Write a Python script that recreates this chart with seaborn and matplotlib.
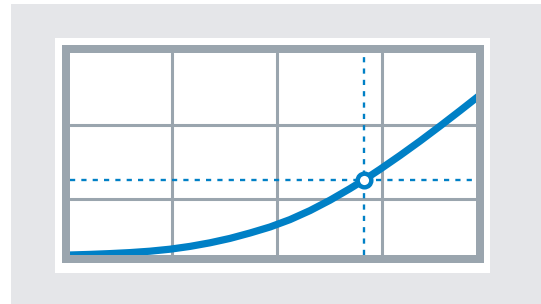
import matplotlib.pyplot as plt
import matplotlib.patches as mpatches
import seaborn as sns

# curve (x across the plot box, y up from the bottom, both in box pixels)
curve_x = [0, 20, 40, 60, 80, 100, 120, 140, 160, 180, 200, 220, 240, 260, 280, 294, 310, 330, 350, 370, 390, 410]
curve_y = [0, 0.6, 1.4, 2.4, 3.8, 5.8, 8.6, 12.2, 16.6, 22.0, 28.0, 35.4, 44.4, 54.8, 66.4, 75.1, 85.7, 99.5, 113.9, 128.9, 144.3, 160.0]

# highlighted point and grid positions
point_x = [294]
point_y = [75]
grid_x = [102, 207, 312]
grid_y = [56, 130]

x_max = 405.5
y_max = 202

blue = '#0080c6'
frame = '#9aa5ae'
back = '#e5e6e9'

sns.set_style('white')
W, H = 541, 304
fig = plt.figure(figsize=(W / 100, H / 100), dpi=100)
fig.patch.set_facecolor('white')

def box(x0, y0, x1, y1, color):
    # pixel box (top-left origin) -> figure fraction patch
    fig.patches.append(mpatches.Rectangle((x0 / W, (H - y1) / H), (x1 - x0) / W, (y1 - y0) / H,
                                          transform=fig.transFigure, facecolor=color,
                                          edgecolor='none', zorder=-1))

box(11, 4, 541, 304, back)
box(55, 38, 490, 273, 'white')
box(62, 45, 483.5, 263, frame)

ax = fig.add_axes([70 / W, (H - 255) / H, x_max / W, y_max / H])
ax.set_zorder(2)
ax.set_facecolor('white')

sns.lineplot(x=curve_x, y=curve_y, ax=ax, color=blue, linewidth=5.2, zorder=4)
ax.axvline(point_x[0], color=blue, linewidth=1.7, dashes=(2.2, 2.6), zorder=3)
ax.axhline(point_y[0], color=blue, linewidth=1.7, dashes=(2.2, 2.6), zorder=3)
ax.plot(point_x, point_y, 'o', markersize=9.8, markerfacecolor='white',
        markeredgecolor=blue, markeredgewidth=3.2, zorder=5)

ax.set_xlim(0, x_max)
ax.set_ylim(0, y_max)
ax.set_xticks(grid_x)
ax.set_yticks(grid_y)
ax.set_xticklabels([])
ax.set_yticklabels([])
ax.tick_params(length=0)
ax.grid(True, color=frame, linewidth=2.2)
ax.set_axisbelow(True)
for s in ax.spines.values():
    s.set_visible(False)

fig.savefig('out.png', dpi=100)
